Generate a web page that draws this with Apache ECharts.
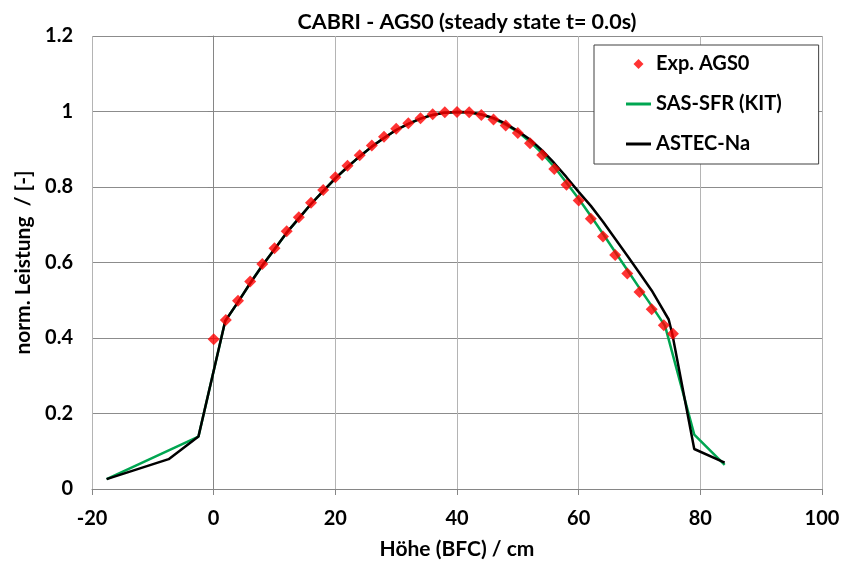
<!DOCTYPE html>
<html>
<head>
<meta charset="utf-8">
<script src="https://cdn.jsdelivr.net/npm/echarts@6/dist/echarts.min.js"></script>
<style>html,body{margin:0;padding:0;background:#fff;}#c{width:844px;height:565px;}</style>
</head>
<body>
<div id="c"></div>
<script>
// Experimental data
const expX = [0,2,4,6,8,10,12,14,16,18,20,22,24,26,28,30,32,34,36,38,40,42,44,46,48,50,52,54,56,58,60,62,64,66,68,70,72,74,75.5];
const expY = [0.397,0.448,0.499,0.550,0.596,0.638,0.683,0.720,0.758,0.792,0.826,0.856,0.884,0.910,0.933,0.954,0.969,0.982,0.993,0.998,0.999,0.998,0.991,0.979,0.963,0.943,0.916,0.885,0.848,0.806,0.764,0.716,0.669,0.620,0.571,0.522,0.476,0.434,0.411];

// SAS-SFR (KIT)
const sasX = [-17.6,-2.5,1.9,4,6,8,10,12,14,16,18,20,22,24,26,28,30,32,34,36,38,40,42,44,46,48,50,52,54,56,58,60,62,64,66,68,70,72,74.2,79,84];
const sasY = [0.026,0.139,0.445,0.495,0.545,0.592,0.635,0.679,0.717,0.755,0.789,0.823,0.853,0.881,0.907,0.930,0.951,0.967,0.981,0.991,0.997,0.999,0.998,0.992,0.981,0.965,0.946,0.920,0.889,0.853,0.811,0.769,0.723,0.676,0.628,0.580,0.532,0.485,0.432,0.144,0.064];

// ASTEC-Na
const astX = [-17.6,-7.4,-2.5,1.9,4,6,8,10,12,14,16,18,20,22,24,26,28,30,32,34,36,38,40,42,44,46,48,50,52,54,56,58,60,62,64,66,68,70,72,74.8,75.4,79,84];
const astY = [0.026,0.079,0.139,0.445,0.495,0.545,0.592,0.635,0.679,0.717,0.755,0.789,0.823,0.853,0.881,0.907,0.930,0.951,0.967,0.981,0.991,0.997,0.999,0.998,0.992,0.983,0.968,0.948,0.926,0.897,0.863,0.826,0.787,0.750,0.708,0.663,0.618,0.572,0.526,0.449,0.410,0.106,0.070];

const xTicks = [-20,0,20,40,60,80,100];
const yTicks = [0,0.2,0.4,0.6,0.8,1,1.2];

const titleText = 'CABRI - AGS0 (steady state t= 0.0s)';
const xName = 'Höhe (BFC) / cm';
const yName = 'norm. Leistung  / [-]';
const names = ['Exp. AGS0','SAS-SFR (KIT)','ASTEC-Na'];

const zip = (a,b) => a.map((v,i)=>[v,b[i]]);
const FONT = 'Lato, "Open Sans", sans-serif';

const chart = echarts.init(document.getElementById('c'), null, {renderer:'canvas'});
chart.setOption({
  animation: false,
  backgroundColor: '#fff',
  title: {
    text: titleText, left: 462, top: 6, textAlign: 'center',
    textStyle: {fontFamily: FONT, fontWeight: 'bold', fontSize: 21.5, color: '#000'}
  },
  grid: {left: 92, right: 22, top: 36, bottom: 76, containLabel: false},
  legend: {
    orient: 'vertical', left: 594, top: 45,
    backgroundColor: '#fff', borderColor: '#404040', borderWidth: 1,
    padding: [7, 37, 8, 32], itemGap: 16, itemWidth: 25, itemHeight: 10,
    symbolKeepAspect: true,
    textStyle: {fontFamily: FONT, fontWeight: 'bold', fontSize: 20, lineHeight: 24, color: '#000'},
    data: [
      {name: names[0], icon: 'path://M5,0L10,5L5,10L0,5Z'},
      {name: names[1], icon: 'path://M0,0H25V3H0Z'},
      {name: names[2], icon: 'path://M0,0H25V3H0Z'}
    ]
  },
  xAxis: {
    type: 'value', min: -20, max: 100, interval: 20,
    name: xName, nameLocation: 'middle', nameGap: 50,
    nameTextStyle: {fontFamily: FONT, fontWeight: 'bold', fontSize: 21, color: '#000'},
    axisLine: {onZero: false, lineStyle: {color: '#868686', width: 1}},
    axisTick: {show: true, inside: false, length: 6, lineStyle: {color: '#868686'}},
    axisLabel: {fontFamily: FONT, fontWeight: 'bold', fontSize: 20, color: '#000', margin: 20,
      formatter: v => xTicks.includes(v) ? String(v) : ''},
    splitLine: {show: true, lineStyle: {color: '#b4b4b4', width: 1}}
  },
  yAxis: {
    type: 'value', min: 0, max: 1.2, interval: 0.2,
    name: yName, nameLocation: 'middle', nameGap: 57, nameRotate: 90,
    nameTextStyle: {fontFamily: FONT, fontWeight: 'bold', fontSize: 21, color: '#000'},
    axisLine: {show: true, lineStyle: {color: '#868686', width: 1}},
    axisTick: {show: true, inside: false, length: 6, lineStyle: {color: '#868686'}},
    axisLabel: {fontFamily: FONT, fontWeight: 'bold', fontSize: 20, color: '#000', margin: 19,
      formatter: v => { const t = yTicks.find(k => Math.abs(k - v) < 1e-9); return t === undefined ? '' : String(parseFloat(t.toFixed(1))); }},
    splitLine: {show: true, lineStyle: {color: '#8c8c8c', width: 1}}
  },
  series: [
    {
      name: names[1], type: 'line', data: zip(sasX, sasY),
      symbol: 'none', lineStyle: {color: '#00a651', width: 2.5}, itemStyle: {color: '#00a651'}, z: 2
    },
    {
      name: names[2], type: 'line', data: zip(astX, astY),
      symbol: 'none', lineStyle: {color: '#000', width: 2.5}, itemStyle: {color: '#000'}, z: 3
    },
    {
      name: names[0], type: 'scatter', data: zip(expX, expY),
      symbol: 'diamond', symbolSize: 12,
      itemStyle: {color: '#ff0000'}, z: 4
    }
  ]
});
</script>
</body>
</html>
